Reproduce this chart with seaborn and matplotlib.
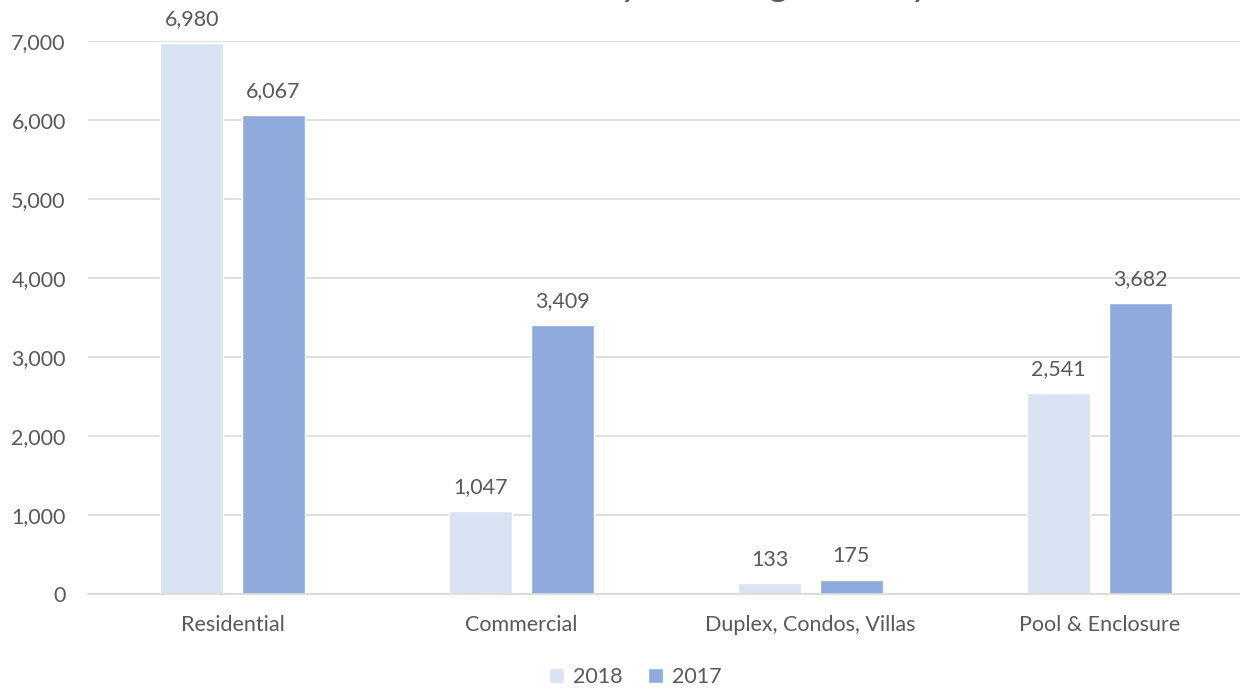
import pandas as pd
import matplotlib
matplotlib.use("Agg")
import matplotlib.pyplot as plt
import seaborn as sns

categories = ["Residential", "Commercial", "Duplex, Condos, Villas", "Pool & Enclosure"]
years = ["2018", "2017"]
values_2018 = [6980, 1047, 133, 2541]
values_2017 = [6067, 3409, 175, 3682]
title = "Permits by Building Activity"

TEXT = "#595959"
GRID = "#D9D9D9"
palette = {"2018": "#DAE3F3", "2017": "#8FAADC"}
FS = 15.5


def build_frame():
    """Long format table for seaborn."""
    rows = []
    for cat, v18, v17 in zip(categories, values_2018, values_2017):
        rows.append({"Category": cat, "Year": "2018", "Count": v18})
        rows.append({"Category": cat, "Year": "2017", "Count": v17})
    return pd.DataFrame(rows)


def plot_chart(df):
    sns.set_theme(style="white")
    plt.rcParams["font.family"] = ["Lato", "DejaVu Sans"]

    fig = plt.figure(figsize=(12.4, 6.92), dpi=100)
    ax = fig.add_axes([88 / 1240, 1 - 594 / 692, 1156 / 1240, 553 / 692])

    sns.barplot(data=df, x="Category", y="Count", hue="Year", order=categories,
                hue_order=years, palette=palette, width=0.564, gap=0.227,
                saturation=1, ax=ax, legend=True)

    ax.set_ylim(0, 7000)
    ax.set_xlim(-0.5, len(categories) - 0.5)
    ax.set_yticks(range(0, 7001, 1000))
    ax.yaxis.set_major_formatter(matplotlib.ticker.FuncFormatter(lambda v, p: f"{int(v):,}"))
    ax.grid(axis="y", color=GRID, linewidth=1.2)
    ax.set_axisbelow(True)
    for side in ["top", "right", "left"]:
        ax.spines[side].set_visible(False)
    ax.spines["bottom"].set_color(GRID)
    ax.spines["bottom"].set_linewidth(1.2)
    ax.tick_params(axis="both", colors=TEXT, labelsize=FS, length=0)
    ax.tick_params(axis="y", pad=16)
    ax.tick_params(axis="x", pad=15)
    ax.set_xlabel("")
    ax.set_ylabel("")

    for container in ax.containers:
        ax.bar_label(container, labels=[f"{int(b.get_height()):,}" for b in container],
                     padding=10, color=TEXT, fontsize=FS)

    handles, labels = ax.get_legend_handles_labels()
    ax.get_legend().remove()
    fig.legend(handles, labels, loc="center", bbox_to_anchor=(635 / 1240, 1 - 677 / 692),
               ncol=2, frameon=False, fontsize=FS, labelcolor=TEXT,
               handlelength=0.7, handleheight=0.7, handletextpad=0.4, columnspacing=1.2)

    # title sits mostly above the visible canvas, only descenders show
    fig.text(694 / 1240, 1 + 5 / 692, title, ha="center", va="baseline",
             fontsize=28, color=TEXT)

    fig.savefig("out.png", dpi=100)


if __name__ == "__main__":
    df = build_frame()
    plot_chart(df)
